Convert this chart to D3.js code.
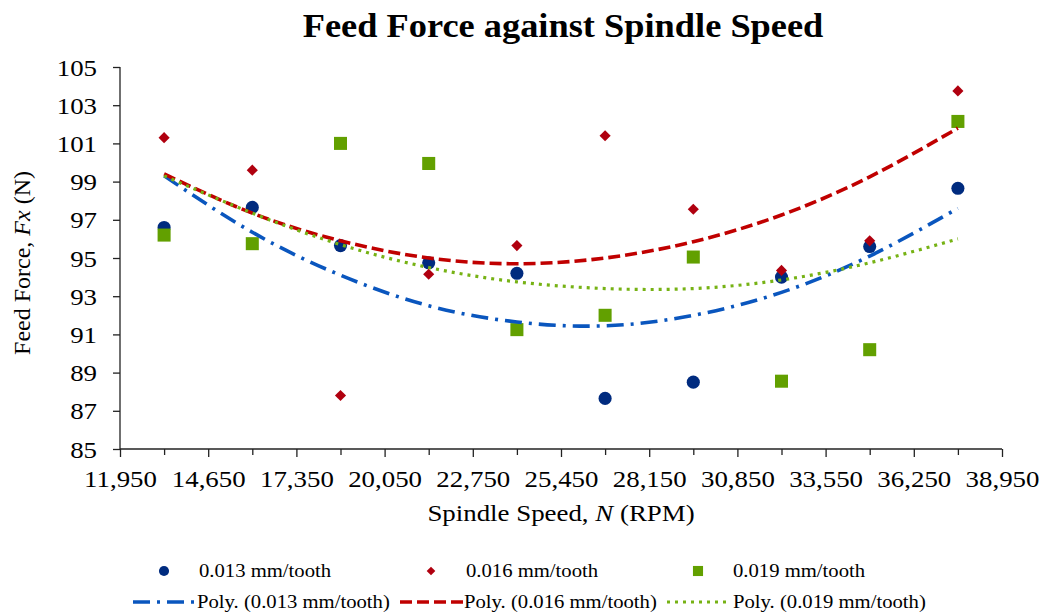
<!DOCTYPE html>
<html>
<head>
<meta charset="utf-8">
<script src="https://cdn.jsdelivr.net/npm/d3@7"></script>
<style>
  body { margin: 0; background: #fff; }
  svg, svg text { font-family: "Liberation Serif", "Times New Roman", serif; }
</style>
</head>
<body>
<svg id="chart" width="1041" height="614"></svg>
<script>
// spindle speed (RPM) for every measured point
const speeds = [13300, 16000, 18700, 21400, 24100, 26800, 29500, 32200, 34900, 37600];
// feed force Fx (N) for each feed rate
const force013 = [96.6, 97.65, 95.65, 94.75, 94.2, 87.65, 88.5, 94.0, 95.6, 98.65];
const force016 = [101.3, 99.6, 87.8, 94.15, 95.65, 101.4, 97.55, 94.35, 95.9, 103.75];
const force019 = [96.2, 95.75, 101.0, 99.95, 91.25, 92.0, 95.05, 88.55, 90.2, 102.15];
// poly. trendlines, read at the same speeds
const trend013 = [99.3, 96.35, 94.1, 92.5, 91.65, 91.45, 92.0, 93.2, 95.1, 97.6];
const trend016 = [99.4, 97.35, 95.9, 95.0, 94.7, 95.0, 95.85, 97.25, 99.25, 101.8];
const trend019 = [99.3, 97.35, 95.7, 94.5, 93.75, 93.4, 93.4, 93.85, 94.75, 96.0];
// axis ticks
const yTicks = [85, 87, 89, 91, 93, 95, 97, 99, 101, 103, 105];
const xTicks = d3.range(11950, 38950 + 1, 1350);
const xLabels = [11950, 14650, 17350, 20050, 22750, 25450, 28150, 30850, 33550, 36250, 38950];

const SX = 1.12; // the picture's text is a bit wide
const svg = d3.select('#chart');
const plot = {left: 120, right: 1002, top: 67, bottom: 449};

const xScale = d3.scaleLinear().domain([11950, 38950]).range([plot.left, plot.right]);
const yScale = d3.scaleLinear().domain([85, 105]).range([plot.bottom, plot.top]);

// title
svg.append('text')
  .attr('transform', 'translate(563,37) scale(1.07,1)')
  .attr('text-anchor', 'middle')
  .style('font-size', '34px').style('font-weight', 'bold')
  .text('Feed Force against Spindle Speed');

// y axis
var yAxis = svg.append('g')
  .attr('transform', 'translate(' + plot.left + ',0)')
  .call(d3.axisLeft(yScale).tickValues(yTicks).tickSize(7).tickFormat(d3.format('d')));
yAxis.attr('font-family', null).attr('font-size', null);
yAxis.select('.domain').attr('d', 'M0,' + plot.top + 'V' + plot.bottom);
yAxis.selectAll('text')
  .attr('x', 0).attr('dy', '0.34em')
  .attr('transform', 'translate(-23,0) scale(' + SX + ',1)')
  .style('font-size', '24px').style('fill', '#000');

// x axis
var xAxis = svg.append('g')
  .attr('transform', 'translate(0,' + plot.bottom + ')')
  .call(d3.axisBottom(xScale).tickValues(xTicks).tickSize(8)
    .tickFormat(function(d) { return xLabels.indexOf(d) >= 0 ? d3.format(',')(d) : ''; }));
xAxis.attr('font-family', null).attr('font-size', null);
xAxis.select('.domain').attr('d', 'M' + plot.left + ',0H' + plot.right);
xAxis.selectAll('.tick line')
  .attr('y2', function(d) { return xLabels.indexOf(d) >= 0 ? 8 : 6; });
xAxis.selectAll('text')
  .attr('y', 0).attr('dy', 0)
  .attr('transform', 'translate(0,38) scale(' + SX + ',1)')
  .style('font-size', '24px').style('fill', '#000');
svg.selectAll('.domain, .tick line').attr('stroke', '#222').attr('stroke-width', 1.3);

// axis titles
var xt = svg.append('text')
  .attr('transform', 'translate(561,521) scale(' + SX + ',1)')
  .attr('text-anchor', 'middle').style('font-size', '24px');
xt.append('tspan').text('Spindle Speed, ');
xt.append('tspan').style('font-style', 'italic').text('N');
xt.append('tspan').text(' (RPM)');

var yt = svg.append('text')
  .attr('transform', 'translate(30,263) rotate(-90)')
  .attr('text-anchor', 'middle').style('font-size', '24px');
yt.append('tspan').text('Feed Force, ');
yt.append('tspan').style('font-style', 'italic').text('Fx');
yt.append('tspan').text(' (N)');

// series styles (diamond = square turned 45 degrees)
const series = [
  {name: '0.013 mm/tooth', values: force013, trend: trend013, marker: d3.symbolCircle, size: 135, rot: 0,
   color: '#002B7F', line: '#0A56BE', dash: '17,7,3,7', width: 3.6},
  {name: '0.016 mm/tooth', values: force016, trend: trend016, marker: d3.symbolSquare, size: 62, rot: 45,
   color: '#B0000F', line: '#C00000', dash: '12,5', width: 3.6},
  {name: '0.019 mm/tooth', values: force019, trend: trend019, marker: d3.symbolSquare, size: 170, rot: 0,
   color: '#62A000', line: '#76B214', dash: '3,5', width: 3.2}
];

// markers
series.forEach(function(s) {
  svg.append('g').selectAll('path')
    .data(s.values)
    .enter().append('path')
    .attr('transform', function(d, i) {
      return 'translate(' + xScale(speeds[i]) + ',' + yScale(d) + ') rotate(' + s.rot + ')';
    })
    .attr('d', d3.symbol().type(s.marker).size(s.size))
    .attr('fill', s.color);
});

// trendlines on top
var trendLine = d3.line()
  .x(function(d, i) { return xScale(speeds[i]); })
  .y(function(d) { return yScale(d); })
  .curve(d3.curveNatural);
series.forEach(function(s) {
  svg.append('path').datum(s.trend)
    .attr('fill', 'none')
    .attr('stroke', s.line)
    .attr('stroke-width', s.width)
    .attr('stroke-dasharray', s.dash)
    .attr('d', trendLine);
});

// legend
var legend = svg.append('g');
series.forEach(function(s, i) {
  var tx = 199 + i * 267;
  legend.append('path')
    .attr('transform', 'translate(' + (tx - 35) + ',571) rotate(' + s.rot + ')')
    .attr('d', d3.symbol().type(s.marker).size(s.size * 0.6))
    .attr('fill', s.color);
  legend.append('text')
    .attr('transform', 'translate(' + tx + ',577) scale(1.15,1)')
    .style('font-size', '18px').text(s.name);
  legend.append('line')
    .attr('x1', tx - 66).attr('x2', tx - 3)
    .attr('y1', 602).attr('y2', 602)
    .attr('stroke', s.line).attr('stroke-width', s.width)
    .attr('stroke-dasharray', s.dash);
  legend.append('text')
    .attr('transform', 'translate(' + (i === 2 ? tx : tx - 2) + ',608) scale(1.15,1)')
    .style('font-size', '18px').text('Poly. (' + s.name + ')');
});
</script>
</body>
</html>
